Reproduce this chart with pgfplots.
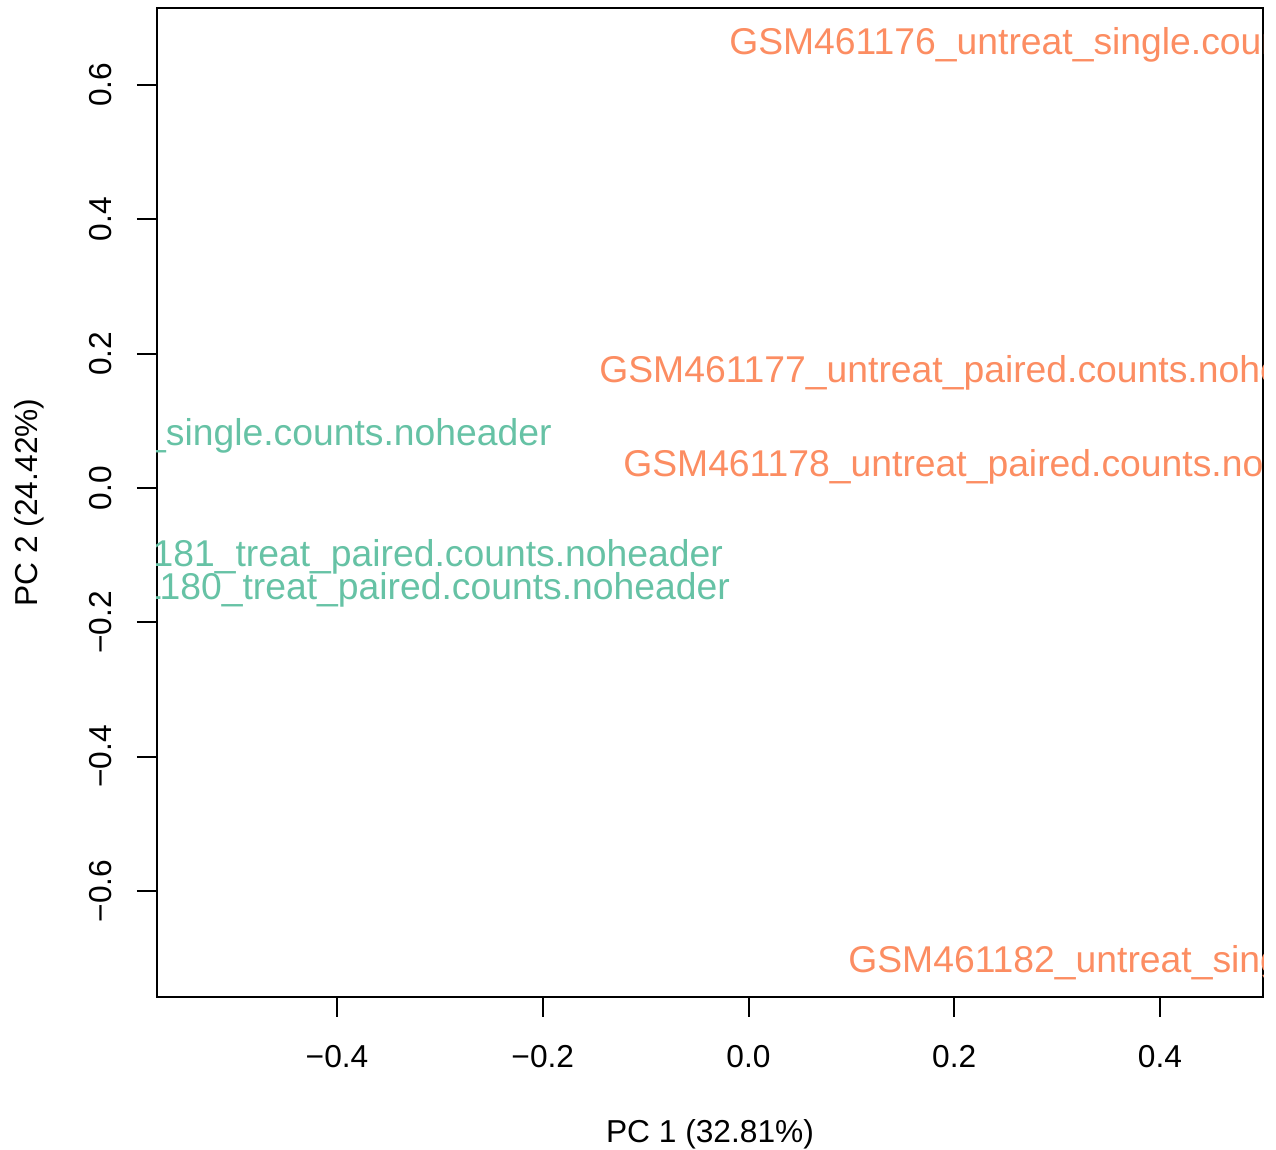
\documentclass[border=0pt]{standalone}
\usepackage{fontspec}
\setmainfont{Liberation Sans}
\usepackage{pgfplots}
\pgfplotsset{compat=1.18}
\definecolor{setorange}{HTML}{FC8D62}
\definecolor{setgreen}{HTML}{66C2A5}

\pgfplotstableread{
x y label
0.3458 0.6650 GSM461176\_untreat\_single.counts.noheader
0.2225 0.1772 GSM461177\_untreat\_paired.counts.noheader
0.2458 0.0372 GSM461178\_untreat\_paired.counts.noheader
0.4615 -0.7014 GSM461182\_untreat\_single.counts.noheader
}\untreated

\pgfplotstableread{
x y label
-0.5357 0.0834 GSM461179\_treat\_single.counts.noheader
-0.3655 -0.1459 GSM461180\_treat\_paired.counts.noheader
-0.3723 -0.0968 GSM461181\_treat\_paired.counts.noheader
}\treated

\begin{document}
\begin{tikzpicture}
    \useasboundingbox (0,0) rectangle (638pt,575pt);
    \begin{axis}[
            at={(78.5pt,76.5pt)}, anchor=south west,
            scale only axis,
            width=553pt, height=494.5pt,
            %
            xmin=-0.575, xmax=0.5001,
            ymin=-0.7578, ymax=0.7146,
            clip marker paths=true,
            %
            xtick={-0.4,-0.2,0,0.2,0.4},
            xticklabels={−0.4,−0.2,0.0,0.2,0.4},
            ytick={-0.6,-0.4,-0.2,0,0.2,0.4,0.6},
            yticklabels={−0.6,−0.4,−0.2,0.0,0.2,0.4,0.6},
            tick pos=left,
            tick align=outside,
            major tick length=10pt,
            tick style={line width=1pt, black},
            axis line style={line width=1pt},
            ticklabel style={font=\fontsize{15.85}{18}\selectfont},
            xticklabel shift=19.5pt,
            yticklabel shift=18.5pt,
            xticklabel style={anchor=center, text height=11.35pt, text depth=0pt},
            yticklabel style={rotate=90, anchor=center, text height=11.35pt, text depth=0pt},
            %
            xlabel={PC 1 (32.81\%)},
            ylabel={PC 2 (24.42\%)},
            label style={font=\fontsize{15.85}{18}\selectfont},
            xlabel style={at={(axis description cs:0.5,-0.136)}, anchor=center,
                text height=11.35pt, text depth=0pt},
            ylabel style={at={(axis description cs:-0.1184,0.5)}, anchor=center,
                text height=11.35pt, text depth=0pt},
            %
            nodes near coords,
            point meta=explicit symbolic,
            nodes near coords style={anchor=center, font=\fontsize{18.65}{22}\selectfont,
                text height=13.35pt, text depth=0pt, inner sep=0pt},
        ]

        % untreated samples
        \addplot[only marks, mark=none, setorange,
            nodes near coords style={text=setorange}]
            table[x=x, y=y, meta=label] {\untreated};

        % treated samples
        \addplot[only marks, mark=none, setgreen,
            nodes near coords style={text=setgreen}]
            table[x=x, y=y, meta=label] {\treated};

    \end{axis}
\end{tikzpicture}
\end{document}
